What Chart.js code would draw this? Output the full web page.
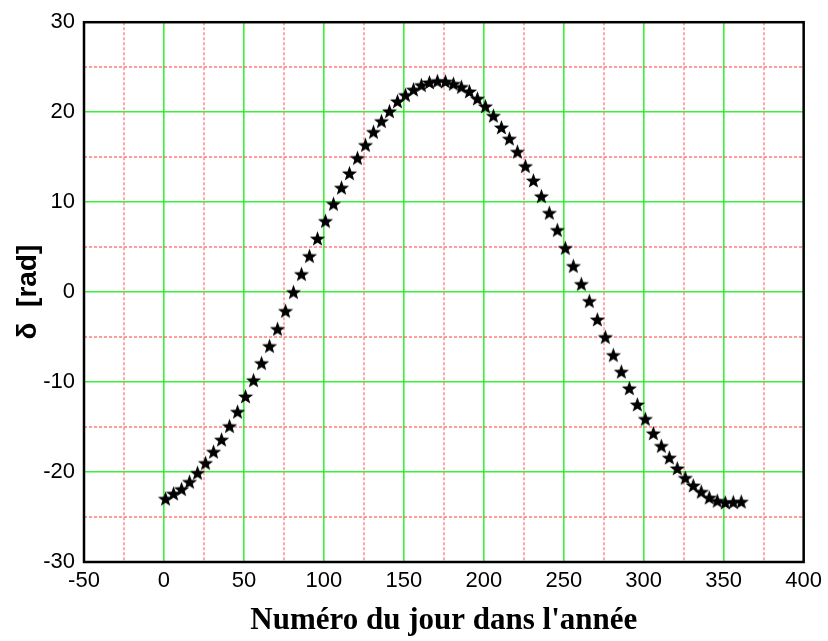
<!DOCTYPE html>
<html>
<head>
<meta charset="utf-8">
<script src="https://cdn.jsdelivr.net/npm/chart.js@4.4.1/dist/chart.umd.min.js"></script>
<style>
    html, body { margin: 0; padding: 0; background: #fff; }
    #wrap { width: 828px; height: 641px; }
</style>
</head>
<body>
<div id="wrap"><canvas id="declChart" width="828" height="641"></canvas></div>
<script>
// --- DATA ---
const days = [1, 6, 11, 16, 21, 26, 31, 36, 41, 46, 51, 56, 61, 66, 71, 76, 81,
    86, 91, 96, 101, 106, 111, 116, 121, 126, 131, 136, 141, 146,
    151, 156, 161, 166, 171, 176, 181, 186, 191, 196, 201, 206, 211, 216, 221, 226, 231, 236, 241, 246, 251, 256, 261,
    266, 271, 276, 281, 286, 291, 296, 301, 306, 311, 316, 321, 326, 331, 336, 341, 346, 351, 356, 361];
const declination = [-22.97, -22.4, -21.9, -21.1, -20.1, -19.0, -17.75, -16.4, -14.9, -13.3, -11.6, -9.8, -7.9, -6.0, -4.1, -2.1, 0.0,
    2.0, 4.0, 5.95, 7.9, 9.8, 11.6, 13.2, 14.9, 16.35, 17.8, 19.0, 20.1, 21.2,
    21.9, 22.5, 23.0, 23.3, 23.45, 23.4, 23.15, 22.8, 22.3, 21.5, 20.65, 19.6, 18.3, 17.05, 15.6, 14.0, 12.4, 10.65, 8.8, 6.9, 4.9, 2.9, 0.9,
    -1.0, -3.05, -5.0, -7.0, -8.85, -10.7, -12.5, -14.1, -15.7, -17.1, -18.4, -19.6, -20.65, -21.5, -22.2, -22.85, -23.2, -23.4, -23.35, -23.3];

// minor (dotted) grid positions
const xMinorTicks = [-25, 25, 75, 125, 175, 225, 275, 325, 375];
const yMinorTicks = [-25, -15, -5, 5, 15, 25];

// --- filled star marker ---
function makeStar(size) {
    const c = document.createElement('canvas');
    c.width = size;
    c.height = size;
    const g = c.getContext('2d');
    const cx = size / 2, cy = size / 2 + 0.6;
    const outer = size / 2 - 0.5, inner = outer * 0.42;
    g.beginPath();
    for (let k = 0; k < 10; k++) {
        const r = k % 2 === 0 ? outer : inner;
        const a = -Math.PI / 2 + k * Math.PI / 5;
        const px = cx + r * Math.cos(a), py = cy + r * Math.sin(a);
        if (k === 0) g.moveTo(px, py); else g.lineTo(px, py);
    }
    g.closePath();
    g.fillStyle = '#000';
    g.fill();
    return c;
}
const starImg = makeStar(17);

// --- minor grid + frame plugin ---
const frameGrid = {
    id: 'frameGrid',
    beforeDatasetsDraw(chart) {
        const { ctx, chartArea: a, scales: { x, y } } = chart;
        ctx.save();
        ctx.strokeStyle = 'rgba(255, 80, 80, 0.75)';
        ctx.lineWidth = 1.3;
        ctx.setLineDash([3, 2]);
        xMinorTicks.forEach(v => {
            const px = Math.round(x.getPixelForValue(v));
            ctx.beginPath();
            ctx.moveTo(px, a.top);
            ctx.lineTo(px, a.bottom);
            ctx.stroke();
        });
        yMinorTicks.forEach(v => {
            const py = Math.round(y.getPixelForValue(v));
            ctx.beginPath();
            ctx.moveTo(a.left, py);
            ctx.lineTo(a.right, py);
            ctx.stroke();
        });
        ctx.restore();
    },
    afterDraw(chart) {
        const { ctx, chartArea: a } = chart;
        ctx.save();
        ctx.strokeStyle = '#000';
        ctx.lineWidth = 2.5;
        ctx.strokeRect(a.left, a.top, a.right - a.left, a.bottom - a.top);
        ctx.restore();
    }
};

const tickFont = { family: "'Liberation Sans', Arial, sans-serif", size: 22 };
const majorGrid = { color: 'rgba(20, 240, 20, 0.85)', lineWidth: 1.6, drawTicks: false };

new Chart(document.getElementById('declChart'), {
    type: 'scatter',
    data: {
        datasets: [{
            data: days.map((d, i) => ({ x: d, y: declination[i] })),
            pointStyle: starImg,
            pointRadius: 8,
            showLine: false
        }]
    },
    options: {
        responsive: false,
        devicePixelRatio: 1,
        animation: false,
        layout: { padding: { top: 18, right: 21, left: 0, bottom: 0 } },
        plugins: {
            legend: { display: false },
            tooltip: { enabled: false }
        },
        scales: {
            x: {
                type: 'linear',
                min: -50,
                max: 400,
                afterFit: s => { s.height = 79; },
                ticks: { stepSize: 50, color: '#000', font: tickFont, padding: 6 },
                grid: majorGrid,
                border: { display: false },
                title: {
                    display: true,
                    text: "Numéro du jour dans l'année",
                    color: '#000',
                    font: { family: "'Liberation Serif', 'Times New Roman', serif", size: 31, weight: 'bold' },
                    padding: { top: 0, bottom: 1 }
                }
            },
            y: {
                min: -30,
                max: 30,
                afterFit: s => { s.width = 84; },
                ticks: { stepSize: 10, color: '#000', font: tickFont, padding: 9 },
                grid: majorGrid,
                border: { display: false },
                title: {
                    display: true,
                    text: 'δ  [rad]',
                    color: '#000',
                    font: { family: "'Liberation Sans', Arial, sans-serif", size: 28, weight: 'bold' },
                    padding: { top: 11, bottom: 4 }
                }
            }
        }
    },
    plugins: [frameGrid]
});
</script>
</body>
</html>
